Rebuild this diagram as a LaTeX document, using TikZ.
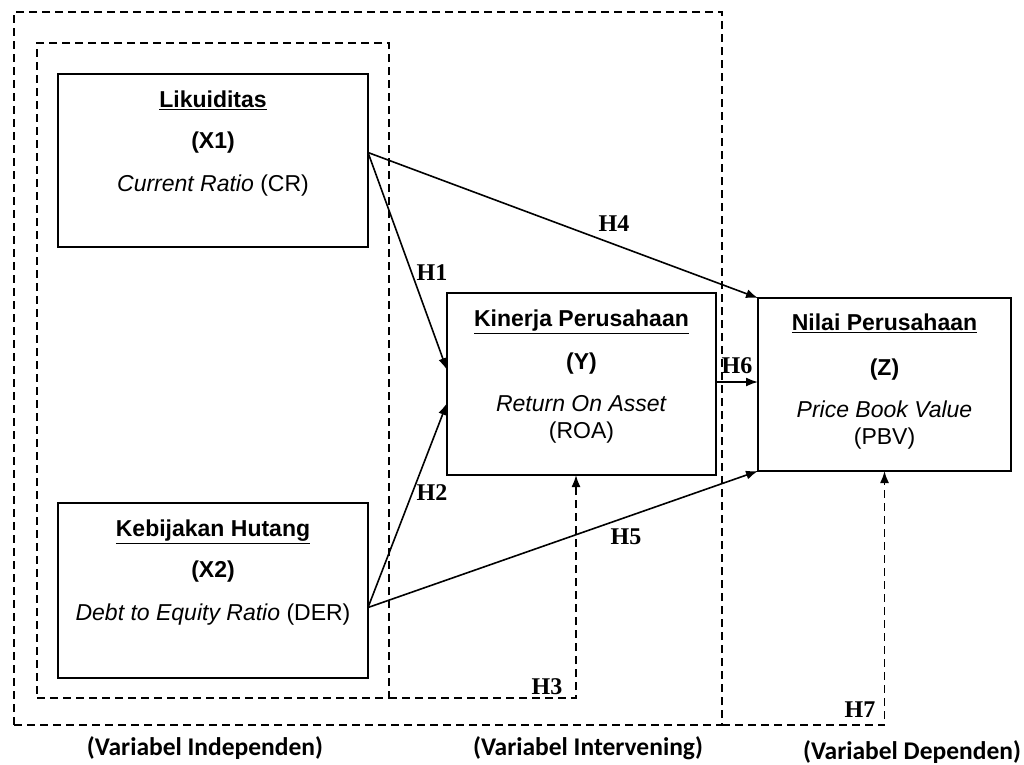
\documentclass[tikz,border=0pt]{standalone}
\usepackage{fontspec}
\setmainfont{Liberation Sans}
\newfontfamily\hypfont{Liberation Serif}
\newfontfamily\groupfont{Carlito}
\usepackage{tikz}
\usetikzlibrary{
  arrows.meta,   % 箭头样式
  positioning    % 节点相对定位
}
\tikzset{
  var box/.style={
    draw,
    line width=1.7pt,
    inner sep=0pt,
    outer sep=0pt
  },
  var text/.style={
    align=center,
    inner sep=0pt,
    font=\fontsize{23}{27}\selectfont
  },
  frame box/.style={
    draw,
    line width=1.7pt,
    dash pattern=on 8pt off 5pt,
    inner sep=0pt,
    outer sep=0pt
  },
  path arrow/.style={
    -{Latex[length=12pt,width=9pt]},
    line width=1.6pt
  },
  dash arrow/.style={
    path arrow,
    dash pattern=on 8pt off 5pt
  },
  hyp label/.style={
    inner sep=1pt,
    font=\hypfont\bfseries\fontsize{24}{28}\selectfont
  },
  group label/.style={
    inner sep=1pt,
    font=\groupfont\bfseries\fontsize{25.5}{29}\selectfont
  }
}

\begin{document}
\begin{tikzpicture}[x=1pt, y=-1pt]
  \useasboundingbox (0,0) rectangle (1024,764);

  % ==== 1. 虚线分组框 ====
  \node[frame box, minimum width=708pt, minimum height=713pt] (outer) at (368,368.5) {};
  \node[frame box, minimum width=352pt, minimum height=655pt] (inner) at (213,370.5) {};

  % ==== 2. 变量框 ====
  \node[var box, minimum width=310pt, minimum height=173pt] (x1) at (213,160.5) {};
  \node[var text, below=17pt of x1.north] (x1t)
    {\underline{\textbf{Likuiditas}}\\[14pt]\textbf{(X1)}\\[16pt]\textit{Current Ratio} (CR)};

  \node[var box, minimum width=310pt, minimum height=175pt] (x2) at (213,590.5) {};
  \node[var text, below=17pt of x2.north] (x2t)
    {\underline{\textbf{Kebijakan Hutang}}\\[14pt]\textbf{(X2)}\\[16pt]\textit{Debt to Equity Ratio} (DER)};

  \node[var box, minimum width=269pt, minimum height=182pt] (y) at (581.5,384) {};
  \node[var text, below=17pt of y.north] (yt)
    {\underline{\textbf{Kinerja Perusahaan}}\\[16pt]\textbf{(Y)}\\[15pt]\textit{Return On Asset}\\[0pt](ROA)};

  \node[var box, minimum width=253pt, minimum height=173pt] (z) at (884.5,384.5) {};
  \node[var text, below=16pt of z.north] (zt)
    {\underline{\textbf{Nilai Perusahaan}}\\[18pt]\textbf{(Z)}\\[15pt]\textit{Price Book Value}\\[0pt](PBV)};

  % ==== 3. 假设路径 ====
  \draw[path arrow] ([yshift=8pt]x1.east) -- ([yshift=14pt]y.west);
  \draw[path arrow] ([yshift=8pt]x1.east) -- (z.north west);
  \draw[path arrow] ([yshift=-17pt]x2.east) -- ([yshift=-19pt]y.west);
  \draw[path arrow] ([yshift=-17pt]x2.east) -- (z.south west);
  \draw[path arrow] ([yshift=2pt]y.east) -- ([yshift=2pt]y.east -| z.west);
  \draw[dash arrow] (inner.south east) -| ([xshift=-5.5pt]y.south);
  \draw[dash arrow] (outer.south east) -| (z.south);

  % 路径标签
  \node[hyp label] (h1) at (432,273) {H1};
  \node[hyp label] (h2) at (432,493) {H2};
  \node[hyp label] (h3) at (547,687) {H3};
  \node[hyp label] (h4) at (614,224) {H4};
  \node[hyp label] (h5) at (626,537) {H5};
  \node[hyp label] (h6) at (737,366) {H6};
  \node[hyp label] (h7) at (860,710) {H7};

  % ==== 4. 底部分组说明 ====
  \node[group label] (gind) at (205,748) {(Variabel Independen)};
  \node[group label] (gint) at (588,748) {(Variabel Intervening)};
  \node[group label] (gdep) at (912,752) {(Variabel Dependen)};
\end{tikzpicture}
\end{document}
